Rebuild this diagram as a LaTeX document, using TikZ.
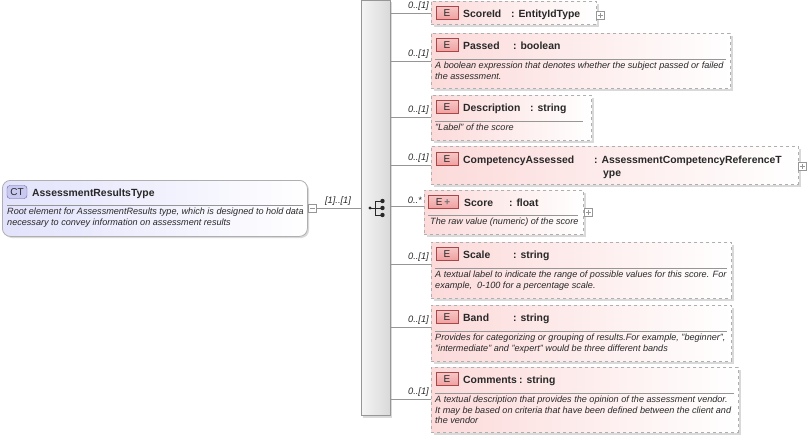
\documentclass[tikz,border=0pt]{standalone}
\usepackage{fontspec}
\setmainfont{Liberation Sans}
\usetikzlibrary{calc}
\definecolor{epink}{RGB}{252,218,218}
\definecolor{ebord}{RGB}{175,175,175}
\definecolor{ebadge}{RGB}{240,160,160}
\definecolor{ebadgeb}{RGB}{170,70,70}
\definecolor{ctfill}{RGB}{226,226,252}
\definecolor{ctbadge}{RGB}{200,200,240}
\definecolor{ctbord}{RGB}{100,100,160}
\definecolor{txt}{RGB}{40,40,40}
\definecolor{lin}{RGB}{150,150,150}
\tikzset{
 x=1pt,y=-1pt,
 ebox/.style={draw=ebord,dashed,left color=epink,right color=white,line width=0.8pt},
 shadowbox/.style={fill=black!15},
 badge/.style={draw=ebadgeb,top color=ebadge!60,bottom color=ebadge,inner sep=0pt,minimum width=22pt,minimum height=13pt,font=\fontsize{10}{10}\selectfont,text=txt},
 ttl/.style={anchor=base west,inner sep=0pt,font=\bfseries\fontsize{10.4}{12}\selectfont,text=txt},
 dsc/.style={anchor=north west,inner sep=0pt,align=left,font=\itshape\fontsize{9.1}{10.6}\selectfont,text=txt},
 mult/.style={anchor=south east,inner sep=1pt,font=\itshape\fontsize{9.3}{10}\selectfont,text=txt},
 conn/.style={draw=lin,line width=0.7pt},
 sep/.style={draw=lin,line width=0.6pt},
 pm/.style={draw=lin,fill=white,minimum size=8pt,inner sep=0pt,line width=0.5pt},
}
\newcommand\plusat[2]{\node[pm] at (#1,#2) {}; \draw[lin,line width=0.5pt] (#1-2.5,#2)--(#1+2.5,#2) (#1,#2-2.5)--(#1,#2+2.5);}
\begin{document}
\begin{tikzpicture}
\useasboundingbox (0,0) rectangle (808,439);
% bar
\fill[black!15] (363,2) rectangle (392,418);
\node[draw=lin,left color=black!4,right color=black!15,minimum width=29pt,minimum height=415pt,anchor=north west,inner sep=0pt] (bar) at (361,0) {};
% sequence icon
\fill[txt] (370,208) circle (1.6);
\draw[txt,line width=0.8pt] (370,208)--(375,208) (375,201)--(375,215) (375,201)--(382,201) (375,208)--(382,208) (375,215)--(382,215);
\foreach \yy in {201,208,215} \fill[txt] (382.5,\yy) circle (2.2);
% CT box
\fill[black!15,rounded corners=8pt] (4,182) rectangle (309,238);
\node[draw=ebord,rounded corners=8pt,left color=ctfill,right color=white,minimum width=305pt,minimum height=56pt,anchor=north west,inner sep=0pt,line width=0.8pt] (ct) at (2,180) {};
\node[draw=ctbord,rounded corners=3pt,fill=ctbadge,inner sep=0pt,minimum width=20pt,minimum height=13pt,font=\fontsize{10}{10}\selectfont,text=txt] (ctb) at (17,192) {CT};
\node[ttl] (ctt) at (32,196) {AssessmentResultsType};
\draw[sep] (7,205)--(303,205);
\node[dsc] (ctd) at (7,208) {Root element for AssessmentResults type, which is designed to hold data\\necessary to convey information on assessment results};
\node[pm] (ctm) at (312,208) {};
\draw[lin,line width=0.5pt] (309.5,208)--(314.5,208);
\draw[conn] (ctm) -- (bar.west|-ctm);
\node[anchor=south,inner sep=1pt,font=\itshape\fontsize{9.3}{10}\selectfont,text=txt] at (338,207) {[1]..[1]};
% element helper
\newcommand\ebox[5]{% name x1 y1 x2 y2
 \fill[shadowbox] (#2+3,#3+3) rectangle (#4+3,#5+3);
 \node[ebox,minimum width=#4-#2,minimum height=#5-#3,anchor=north west,inner sep=0pt] (#1) at (#2,#3) {};}
% ScoreId
\ebox{sid}{431}{1}{596}{24}
\node[badge] at (447,13) {E};
\node[ttl] at (463,17) {ScoreId};
\node[ttl] at (511,17) {: EntityIdType};
\plusat{600}{15}
% Passed
\ebox{pas}{431}{33}{730}{88}
\node[badge] at (447,45) {E};
\node[ttl] at (463,49) {Passed};
\node[ttl] at (513,49) {: boolean};
\draw[sep] (435,59)--(726,59);
\node[dsc] at (435,62) {A boolean expression that denotes whether the subject passed or failed\\the assessment.};
% Description
\ebox{des}{431}{95}{591}{140}
\node[badge] at (447,107) {E};
\node[ttl] at (463,111) {Description};
\node[ttl] at (530,111) {: string};
\draw[sep] (435,121)--(583,121);
\node[dsc] at (435,124) {"Label" of the score};
% Competency
\ebox{com}{431}{146}{798}{184}
\node[badge] at (447,159) {E};
\node[ttl] at (463,163) {CompetencyAssessed};
\node[ttl] at (594,163) {: AssessmentCompetencyReferenceT};
\node[ttl] at (603,176) {ype};
\plusat{802}{166}
% Score
\ebox{sco}{424}{190}{583}{234}
\node[badge,minimum width=30pt] at (443,202) {E\,\textcolor{black!55}{\textbf{+}}};
\node[ttl] at (464,206) {Score};
\node[ttl] at (509,206) {: float};
\draw[sep] (428,215)--(578,215);
\node[dsc] at (430,218) {The raw value (numeric) of the score};
\plusat{588}{212}
% Scale
\ebox{scl}{431}{242}{731}{298}
\node[badge] at (447,254) {E};
\node[ttl] at (463,258) {Scale};
\node[ttl] at (513,258) {: string};
\draw[sep] (435,268)--(727,268);
\node[dsc] at (435,271) {A textual label to indicate the range of possible values for this score. For\\example,\ \ 0-100 for a percentage scale.};
% Band
\ebox{bnd}{431}{305}{731}{361}
\node[badge] at (447,317) {E};
\node[ttl] at (463,321) {Band};
\node[ttl] at (513,321) {: string};
\draw[sep] (435,331)--(727,331);
\node[dsc] at (435,334) {Provides for categorizing or grouping of results.For example, "beginner",\\"intermediate" and "expert" would be three different bands};
% Comments
\ebox{cmt}{431}{367}{738}{432}
\node[badge] at (447,379) {E};
\node[ttl] at (463,383) {Comments};
\node[ttl] at (519,383) {: string};
\draw[sep] (435,393)--(734,393);
\node[dsc] at (435,396) {A textual description that provides the opinion of the assessment vendor.\\It may be based on criteria that have been defined between the client and\\the vendor};
% connectors
\foreach \n/\yy/\m in {sid/13/0..[1], pas/61/0..[1], des/117/0..[1], com/165/0..[1], sco/206/0..*, scl/264/0..[1], bnd/327/0..[1], cmt/399/0..[1]}{
 \draw[conn] (bar.east|-{0,\yy}) -- (\n.west|-{0,\yy});
 \node[mult] at ($(\n.west|-{0,\yy})+(-1,-1)$) {\m};
}
\end{tikzpicture}
\end{document}
